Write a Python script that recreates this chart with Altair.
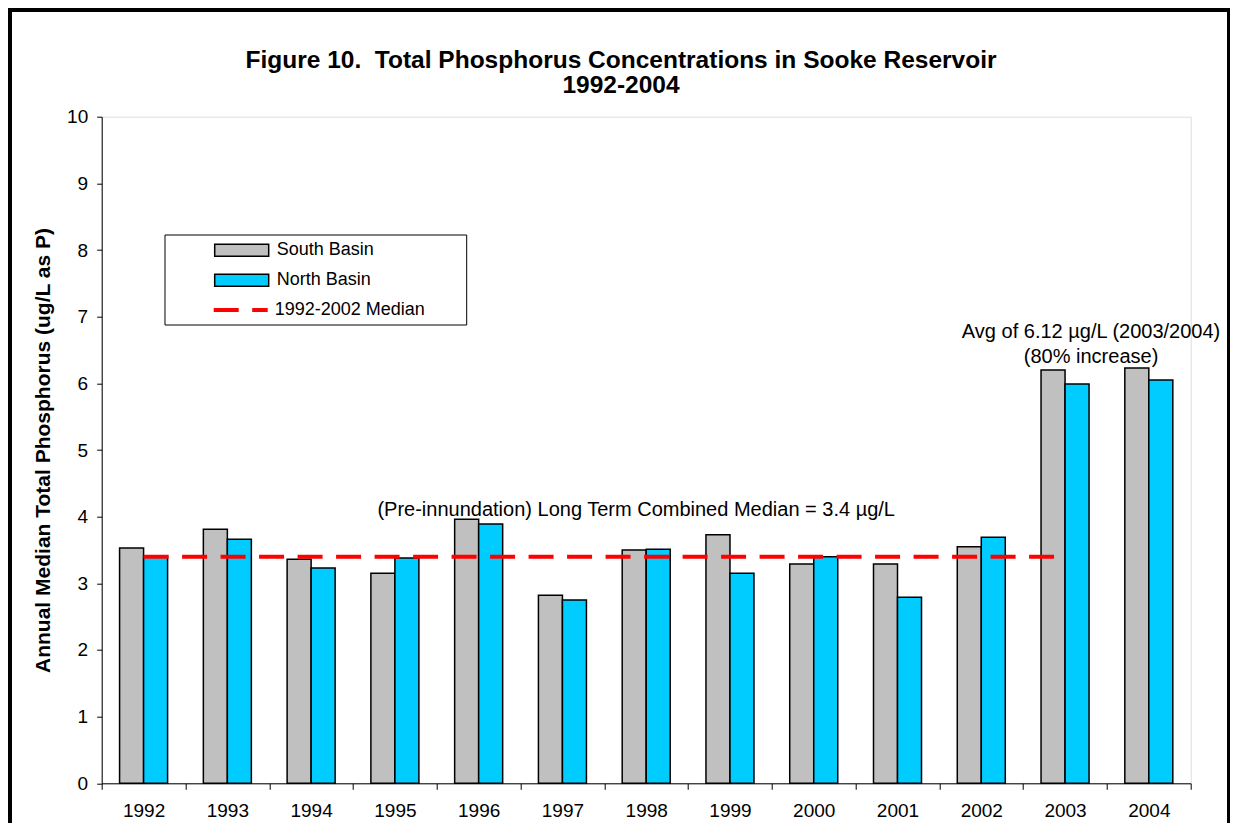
import altair as alt
import pandas as pd

# ---- data ----
years = [str(y) for y in range(1992, 2005)]
south_basin = [3.53, 3.81, 3.36, 3.15, 3.96, 2.82, 3.50, 3.73, 3.29, 3.29, 3.55, 6.20, 6.23]
north_basin = [3.41, 3.66, 3.23, 3.38, 3.89, 2.75, 3.51, 3.15, 3.40, 2.79, 3.69, 5.99, 6.05]
series_names = ["South Basin", "North Basin"]
series_colors = ["#C0C0C0", "#00CCFF"]
median_label = "1992-2002 Median"
median_value = 3.4
median_start, median_end = "1992", "2003"

title_lines = ["Figure 10.\u00a0 Total Phosphorus Concentrations in Sooke Reservoir", "1992-2004"]
y_title = "Annual Median Total Phosphorus (ug/L as P)"
note_median = "(Pre-innundation) Long Term Combined Median = 3.4 \u00b5g/L"
note_avg = ["Avg of 6.12 \u00b5g/L (2003/2004)", "(80% increase)"]

FONT = "Liberation Sans"
W, H = 1089, 666.6

df = pd.DataFrame({
    "year": years * 2,
    "series": [series_names[0]] * len(years) + [series_names[1]] * len(years),
    "value": south_basin + north_basin,
})
med_df = pd.DataFrame({"start": [median_start], "end": [median_end],
                       "value": [median_value], "label": [median_label]})
one = pd.DataFrame({"k": [0]})

x_enc = alt.X("year:N", scale=alt.Scale(domain=years, paddingInner=0, paddingOuter=0),
              axis=alt.Axis(title=None, labelAngle=0, tickBand="extent", tickSize=6,
                            labelFontSize=19, labelPadding=12, labelFont=FONT,
                            labelColor="black", domainColor="black", tickColor="black"))
y_enc = alt.Y("value:Q", scale=alt.Scale(domain=[0, 10], nice=False),
              axis=alt.Axis(values=list(range(11)), format="d", grid=False, tickSize=5, labelPadding=9,
                            labelFontSize=19, labelFont=FONT, labelColor="black",
                            domainColor="black", tickColor="black",
                            title=y_title, titleFont=FONT, titleFontSize=21,
                            titleFontWeight="bold", titleColor="black", titlePadding=13))

frame = alt.Chart(one).mark_rect(filled=False, stroke="black", strokeWidth=4).encode(
    x=alt.value(-91.7), x2=alt.value(1127.3), y=alt.value(-106.7), y2=alt.value(760))

legend_box = alt.Chart(one).mark_rect(fill="white", stroke="black", strokeWidth=1).encode(
    x=alt.value(63.3), x2=alt.value(365), y=alt.value(118.3), y2=alt.value(208.3))

bars = alt.Chart(df).mark_bar(stroke="black", strokeWidth=1.5).encode(
    x=x_enc,
    xOffset=alt.XOffset("series:N", scale=alt.Scale(domain=series_names, paddingInner=0, paddingOuter=0.745)),
    y=y_enc,
    color=alt.Color("series:N", scale=alt.Scale(domain=series_names, range=series_colors),
                    legend=alt.Legend(title=None, orient="none", legendX=131, legendY=124.5,
                                      symbolType="M-4.5,-1H4.5V1H-4.5Z", symbolSize=144,
                                      symbolStrokeColor="black", symbolStrokeWidth=1.5,
                                      labelFontSize=18, labelFont=FONT, labelColor="black",
                                      labelOffset=26, rowPadding=12, padding=0)),
)

rule = alt.Chart(med_df).mark_rule(color="red", strokeWidth=4).encode(
    x=alt.X("start:N"), x2="end", y="value:Q",
    strokeDash=alt.StrokeDash("label:N", scale=alt.Scale(domain=[median_label], range=[[25, 13.5]]),
                              legend=alt.Legend(title=None, orient="none", legendX=130, legendY=184.3,
                                                symbolType="M-4.5,0H4.5", symbolSize=144,
                                                symbolStrokeColor="red", symbolStrokeWidth=4,
                                                labelFontSize=18, labelFont=FONT, labelColor="black",
                                                labelOffset=25, padding=0)),
)

t_median = alt.Chart(one).mark_text(fontSize=20, font=FONT, color="black", dx=-10, baseline="middle").encode(
    x=alt.datum("1998"), y=alt.datum(4.1), text=alt.value(note_median))
t_avg1 = alt.Chart(one).mark_text(fontSize=20, font=FONT, color="black", dx=26, baseline="middle").encode(
    x=alt.datum("2003"), y=alt.datum(6.77), text=alt.value(note_avg[0]))
t_avg2 = alt.Chart(one).mark_text(fontSize=20, font=FONT, color="black", dx=26, baseline="middle").encode(
    x=alt.datum("2003"), y=alt.datum(6.40), text=alt.value(note_avg[1]))

title1 = alt.Chart(one).mark_text(fontSize=24.5, font=FONT, fontWeight="bold", color="black", baseline="middle").encode(
    x=alt.value(519.3), y=alt.value(-56.2), text=alt.value(title_lines[0]))
title2 = alt.Chart(one).mark_text(fontSize=24.5, font=FONT, fontWeight="bold", color="black", baseline="middle").encode(
    x=alt.value(519.3), y=alt.value(-31.0), text=alt.value(title_lines[1]))

chart = alt.layer(frame, legend_box, bars, rule, t_median, t_avg1, t_avg2, title1, title2).resolve_scale(
    strokeDash="independent"
).properties(
    width=W, height=H,
    autosize=alt.AutoSizeParams(type="none"),
    padding={"left": 93.7, "top": 108.7, "right": 39.3, "bottom": 39.7},
).configure_view(stroke=None).configure(background="white")

chart.save("out.html", embed_options={"renderer": "svg", "actions": False})
